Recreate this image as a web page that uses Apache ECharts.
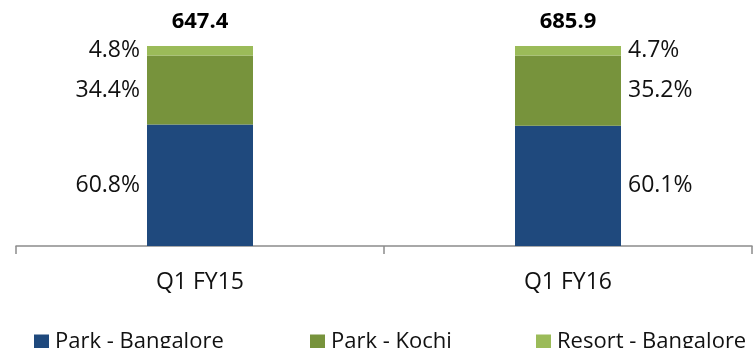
<!DOCTYPE html>
<html>
<head>
<meta charset="utf-8">
<script src="https://cdn.jsdelivr.net/npm/echarts@6/dist/echarts.min.js"></script>
<style>
  html, body { margin: 0; padding: 0; background: #fff; }
  #chart { width: 756px; height: 348px; }
</style>
</head>
<body>
<div id="chart"></div>
<script>
// Revenue mix by property (share of total, %)
const categories = ['Q1 FY15', 'Q1 FY16'];
const seriesNames = ['Park - Bangalore', 'Park - Kochi', 'Resort - Bangalore'];
const parkBangalore = [60.8, 60.1];
const parkKochi = [34.4, 35.2];
const resortBangalore = [4.8, 4.7];
const totals = [647.4, 685.9];
// Which side of each bar its share labels sit on
const labelSides = ['left', 'right'];

const colors = ['#1F497D', '#77933C', '#9BBB59'];
const FONT = '"Open Sans", "Liberation Sans", sans-serif';

function shareData(values) {
  return values.map((v, i) => ({
    value: v,
    label: { position: labelSides[i] }
  }));
}

function shareSeries(name, values, color) {
  return {
    name: name,
    type: 'bar',
    stack: 'mix',
    barWidth: 106,
    itemStyle: { color: color },
    label: {
      show: true,
      distance: 7,
      color: '#111',
      fontFamily: FONT,
      fontSize: 23,
      formatter: p => p.value.toFixed(1) + '%'
    },
    data: shareData(values)
  };
}

const chart = echarts.init(document.getElementById('chart'), null, { renderer: 'canvas' });

const legendLefts = [29, 305, 531];

chart.setOption({
  animation: false,
  grid: { left: 16, right: 4, top: 46, bottom: 102, containLabel: false },
  legend: seriesNames.map((n, i) => ({
    data: [n],
    left: legendLefts[i],
    top: 326,
    icon: 'rect',
    itemWidth: 15,
    itemHeight: 15,
    itemGap: 0,
    textStyle: { fontFamily: FONT, fontSize: 22, color: '#111', padding: [0, 0, 0, 1] }
  })),
  xAxis: {
    type: 'category',
    data: categories,
    axisLine: { lineStyle: { color: '#8c8c8c', width: 1.5 } },
    axisTick: { show: true, length: 8, lineStyle: { color: '#8c8c8c', width: 1.5 } },
    axisLabel: { fontFamily: FONT, fontSize: 23, color: '#111', margin: 25 }
  },
  yAxis: {
    type: 'value',
    min: 0,
    max: 100,
    show: false,
    splitLine: { show: false }
  },
  series: [
    shareSeries(seriesNames[0], parkBangalore, colors[0]),
    shareSeries(seriesNames[1], parkKochi, colors[1]),
    shareSeries(seriesNames[2], resortBangalore, colors[2]),
    {
      // zero-height cap carrying the total for each quarter
      name: 'Total',
      type: 'bar',
      stack: 'mix',
      barWidth: 106,
      itemStyle: { color: 'transparent' },
      label: {
        show: true,
        position: 'top',
        distance: 13,
        color: '#000',
        fontFamily: FONT,
        fontSize: 22,
        fontWeight: 'bold',
        formatter: p => totals[p.dataIndex].toFixed(1)
      },
      data: totals.map(() => 0)
    }
  ]
});
</script>
</body>
</html>
